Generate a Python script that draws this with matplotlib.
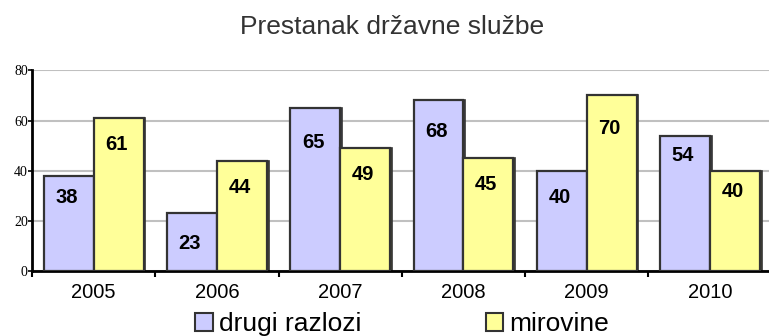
import matplotlib
matplotlib.use("Agg")
import matplotlib.pyplot as plt
import numpy as np
from matplotlib.patches import Patch

years = ["2005", "2006", "2007", "2008", "2009", "2010"]
drugi_razlozi = [38, 23, 65, 68, 40, 54]
mirovine = [61, 44, 49, 45, 70, 40]
y_ticks = [0, 20, 40, 60, 80]

# how far below each bar top its value label sits (points)
label_drop_drugi = [16, 22, 25, 22, 19, 14]
label_drop_mirovine = [19, 19, 19, 19, 24, 15]

plt.rcParams['font.family'] = ['Liberation Sans', 'DejaVu Sans']

fig = plt.figure(figsize=(7.69, 3.36), dpi=100)
ax = fig.add_axes([32 / 769, 0.1935, 739.6 / 769, 0.597])

x = np.arange(len(years))
w = 0.405
blue = "#ccccff"
yellow = "#ffff99"
edge = "#333333"
depth = 0.03

series = [(drugi_razlozi, label_drop_drugi, -w / 2, blue, "#55556a"),
          (mirovine, label_drop_mirovine, w / 2, yellow, "#666633")]
for vals, drops, off, col, side in series:
    # side face for the shallow 3D look
    ax.bar(x + off + depth / 2, vals, width=w, color=side, edgecolor=edge,
           linewidth=1.2, zorder=2)
    bars = ax.bar(x + off, vals, width=w, color=col, edgecolor=edge,
                  linewidth=1.6, zorder=3)
    for b, v, d in zip(bars, vals, drops):
        ax.annotate(str(v), (b.get_x() + b.get_width() / 2, v),
                    xytext=(-1.5, -d), textcoords="offset points",
                    ha="center", va="center", fontsize=14.5, fontweight="bold",
                    color="black", zorder=4)

ax.set_xlim(-0.5, len(years) - 0.5)
ax.set_ylim(0, 80)
ax.set_yticks(y_ticks)
ax.set_yticklabels([str(t) for t in y_ticks], fontsize=10,
                   family=['Liberation Serif', 'DejaVu Serif'])
ax.set_xticks(x)
ax.set_xticklabels(years, fontsize=14.5)
ax.set_xticks(np.arange(len(years) + 1) - 0.5, minor=True)
ax.tick_params(axis="x", which="major", length=0, pad=9)
ax.tick_params(axis="x", which="minor", length=4, width=1.5, direction="out")
ax.tick_params(axis="y", length=3, width=1.2, pad=0)

ax.grid(axis="y", color="#c0c0c0", linewidth=1.5, zorder=0)
ax.set_axisbelow(True)
for s in ["top", "right"]:
    ax.spines[s].set_visible(False)
for s in ["left", "bottom"]:
    ax.spines[s].set_linewidth(2)
    ax.spines[s].set_color("black")

fig.text(0.51, 0.92, "Prestanak državne službe", ha="center", va="center",
         fontsize=19, color="#333333")

handles = [Patch(facecolor=blue, edgecolor=edge, linewidth=1.5),
           Patch(facecolor=yellow, edgecolor=edge, linewidth=1.5)]
fig.legend(handles, ["drugi razlozi", "mirovine"], loc="center",
           bbox_to_anchor=(0.523, 0.035), ncol=2, frameon=False, fontsize=19,
           handlelength=0.65, handleheight=0.65, handletextpad=0.25,
           columnspacing=4.7, borderpad=0)

fig.savefig("out.png", dpi=100)
